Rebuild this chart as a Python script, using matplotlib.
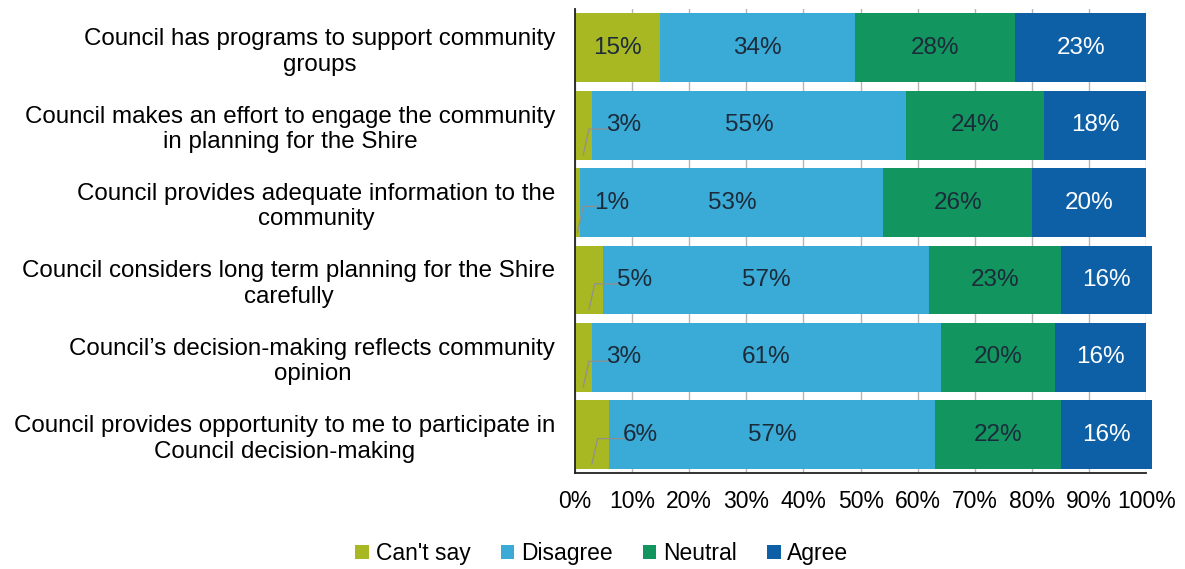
import numpy as np
import matplotlib.pyplot as plt

plt.rcParams["font.family"] = ["Liberation Sans", "DejaVu Sans"]

categories = [
    "Council has programs to support community\ngroups",
    "Council makes an effort to engage the community\nin planning for the Shire",
    "Council provides adequate information to the\ncommunity",
    "Council considers long term planning for the Shire\ncarefully",
    "Council\u2019s decision-making reflects community\nopinion",
    "Council provides opportunity to me to participate in\nCouncil decision-making",
]
cant_say = [15, 3, 1, 5, 3, 6]
disagree = [34, 55, 53, 57, 61, 57]
neutral = [28, 24, 26, 23, 20, 22]
agree = [23, 18, 20, 16, 16, 16]

series = [
    ("Can't say", cant_say, "#a8b823", "#1c2b3a"),
    ("Disagree", disagree, "#3aaad6", "#1c2b3a"),
    ("Neutral", neutral, "#12955f", "#1c2b3a"),
    ("Agree", agree, "#0d5fa6", "white"),
]
xticks = np.arange(0, 101, 10)

fig = plt.figure(figsize=(11.85, 5.69), dpi=100)
ax = fig.add_axes([0.485, 0.168, 0.4825, 0.816])

y = np.arange(len(categories))
left = np.zeros(len(categories))
bar_h = 0.89
for name, vals, color, tcolor in series:
    vals = np.array(vals, dtype=float)
    ax.barh(y, vals, left=left, height=bar_h, color=color, label=name,
            zorder=2, clip_on=False)
    for yi, v, l in zip(y, vals, left):
        if v < 10:
            # small segments get an offset label with a leader line
            tx = l + v + 5.5
            ax.plot([l + v / 2, l + v / 2 + 1, tx - 2.6], [yi + 0.38, yi + 0.05, yi + 0.05],
                    color="#8f8f8f", lw=0.9, zorder=3)
            ax.text(tx, yi, f"{v:.0f}%", ha="center", va="center",
                    fontsize=17.5, color=tcolor, zorder=4)
        else:
            ax.text(l + v / 2, yi, f"{v:.0f}%", ha="center", va="center",
                    fontsize=17.5, color=tcolor, zorder=4)
    left += vals

ax.set_xlim(0, 100)
ax.set_ylim(len(categories) - 0.5, -0.5)
ax.set_xticks(xticks)
ax.set_xticklabels([f"{t}%" for t in xticks], fontsize=16.5)
ax.set_yticks(y)
ax.set_yticklabels(categories, fontsize=17.4, multialignment="center")
ax.tick_params(axis="both", length=0)
ax.tick_params(axis="x", pad=12)
ax.tick_params(axis="y", pad=14)
ax.xaxis.grid(True, color="#b5b5b5", lw=1, zorder=0)
ax.set_axisbelow(True)
for s in ["top", "right"]:
    ax.spines[s].set_visible(False)
ax.spines["left"].set_color("#222222")
ax.spines["bottom"].set_color("#222222")
ax.spines["left"].set_linewidth(1.3)
ax.spines["bottom"].set_linewidth(1.3)

fig.legend(loc="center", bbox_to_anchor=(0.508, 0.027), ncol=4, frameon=False,
           fontsize=16.5, handlelength=0.6, handleheight=0.6, handletextpad=0.3,
           columnspacing=1.3)

fig.savefig("out.png", dpi=100)
